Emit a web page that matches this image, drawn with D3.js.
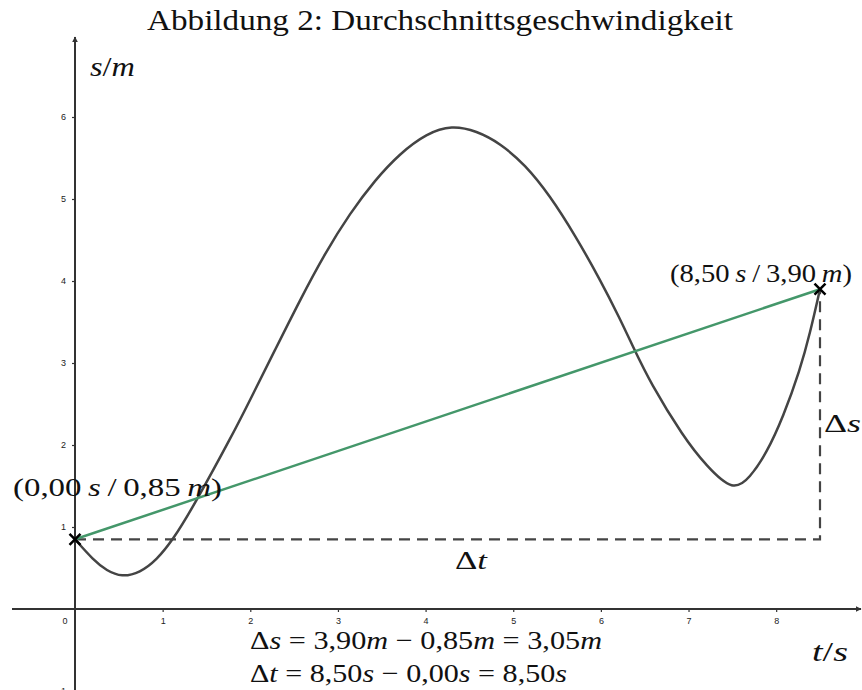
<!DOCTYPE html>
<html>
<head>
<meta charset="utf-8">
<script src="https://cdn.jsdelivr.net/npm/d3@7"></script>
<style>
  html, body { margin: 0; padding: 0; background: #fff; }
  svg { display: block; }
</style>
</head>
<body>
<svg id="chart" width="862" height="690"></svg>
<script>
// Weg-Zeit-Kurve s(t)
const curveT = [0, 0.209, 0.362, 0.533, 0.742, 0.932, 1.121, 1.350, 1.806, 1.997, 2.282, 2.567, 2.852, 3.137, 3.423, 3.708, 4.012, 4.298, 4.583, 4.849, 5.134, 5.419, 5.704, 5.990, 6.218, 6.370, 6.564, 6.940, 7.207, 7.511, 7.700, 7.890, 8.081, 8.272, 8.386, 8.50];
const curveS = [0.85, 0.598, 0.467, 0.390, 0.443, 0.598, 0.850, 1.248, 2.143, 2.549, 3.159, 3.768, 4.338, 4.826, 5.232, 5.557, 5.800, 5.900, 5.830, 5.680, 5.420, 5.040, 4.560, 4.020, 3.540, 3.190, 2.760, 2.100, 1.740, 1.430, 1.600, 1.900, 2.345, 2.915, 3.362, 3.90];

// Start- und Endpunkt der Sekante
const pointT = [0.00, 8.50];
const pointS = [0.85, 3.90];

// Achsenbeschriftung
const xTicks = [1, 2, 3, 4, 5, 6, 7, 8];
const yTicks = [-1, 1, 2, 3, 4, 5, 6];

const svg = d3.select("#chart");
const x = d3.scaleLinear().domain([0, 8.5]).range([75, 820]);
const y = d3.scaleLinear().domain([0, 6]).range([609, 117]);

const axisColor = "#333";
const curveColor = "#444";
const secantColor = "#44976a";
const serif = "Liberation Serif, Times New Roman, Times, serif";
const sans = "Liberation Sans, Arial, Helvetica, sans-serif";

// Pfeilspitzen
const defs = svg.append("defs");
defs.append("marker").attr("id", "arrow").attr("viewBox", "0 0 10 10")
  .attr("refX", 9).attr("refY", 5).attr("markerWidth", 6).attr("markerHeight", 6)
  .attr("markerUnits", "userSpaceOnUse").attr("orient", "auto")
  .append("path").attr("d", "M0,0 L10,5 L0,10 z").attr("fill", axisColor);

// Achsen
const xAxis = d3.axisBottom(x).tickValues(xTicks).tickSize(3).tickPadding(6).tickFormat(d3.format("d"));
const yAxis = d3.axisLeft(y).tickValues(yTicks).tickSize(3).tickPadding(6).tickFormat(d3.format("d"));

const gx = svg.append("g").attr("transform", `translate(0,${y(0)})`).call(xAxis);
const gy = svg.append("g").attr("transform", `translate(${x(0)},0)`).call(yAxis);
[gx, gy].forEach(g => {
  g.select(".domain").remove();
  g.selectAll(".tick line").attr("stroke", axisColor).attr("stroke-width", 1.2);
  g.selectAll(".tick text").attr("fill", "#222").attr("font-family", sans).attr("font-size", 9);
});
gx.selectAll(".tick text").attr("dy", "0.71em");

svg.append("line").attr("x1", 12).attr("x2", 861).attr("y1", y(0)).attr("y2", y(0))
  .attr("stroke", axisColor).attr("stroke-width", 2).attr("marker-end", "url(#arrow)");
svg.append("line").attr("x1", x(0)).attr("x2", x(0)).attr("y1", 690).attr("y2", 37)
  .attr("stroke", axisColor).attr("stroke-width", 2).attr("marker-end", "url(#arrow)");

svg.append("text").attr("x", x(0) - 10).attr("y", y(0) + 9).attr("dy", "0.71em")
  .attr("text-anchor", "middle").attr("fill", "#222")
  .attr("font-family", sans).attr("font-size", 9).text("0");

// Hilfslinien Δt und Δs
svg.append("path")
  .attr("d", `M${x(pointT[0])},${y(pointS[0])} H${x(pointT[1])} V${y(pointS[1])}`)
  .attr("fill", "none").attr("stroke", curveColor).attr("stroke-width", 2.2)
  .attr("stroke-dasharray", "11,7");

const pts = curveT.map((t, i) => [t, curveS[i]]);
svg.append("path").datum(pts)
  .attr("d", d3.line().x(d => x(d[0])).y(d => y(d[1])).curve(d3.curveBasis))
  .attr("fill", "none").attr("stroke", curveColor).attr("stroke-width", 2.5);

// Sekante
svg.append("line")
  .attr("x1", x(pointT[0])).attr("y1", y(pointS[0]))
  .attr("x2", x(pointT[1])).attr("y2", y(pointS[1]))
  .attr("stroke", secantColor).attr("stroke-width", 2.5);

// Punkte als Kreuze
pointT.forEach((t, i) => {
  const cx = x(t), cy = y(pointS[i]), r = 5.5;
  svg.append("path")
    .attr("d", `M${cx - r},${cy - r} L${cx + r},${cy + r} M${cx - r},${cy + r} L${cx + r},${cy - r}`)
    .attr("stroke", "#000").attr("stroke-width", 2.5);
});

// Formeltext aus Teilen (upright / italic)
function mathText(px, py, parts, size, width, anchor) {
  const t = svg.append("text").attr("x", px).attr("y", py)
    .attr("font-family", serif).attr("font-size", size).attr("fill", "#111")
    .attr("text-anchor", anchor || "start");
  parts.forEach(p => {
    t.append("tspan").attr("font-style", p[1] ? "italic" : "normal").text(p[0]);
  });
  if (width) t.attr("textLength", width).attr("lengthAdjust", "spacingAndGlyphs");
  return t;
}

// Titel
mathText(147, 30, [["Abbildung 2: Durchschnittsgeschwindigkeit", false]], 29, 586);

// Achsentitel
mathText(90, 76, [["s", true], ["/", false], ["m", true]], 27, 45);
mathText(812, 661, [["t", true], ["/", false], ["s", true]], 27, 36);

// Punktbeschriftungen
mathText(13, 496, [["(0,00\u2009", false], ["s", true], ["\u2009/\u20090,85\u2009", false], ["m", true], [")", false]], 26, 209);
mathText(670, 282, [["(8,50\u2009", false], ["s", true], ["\u2009/\u20093,90\u2009", false], ["m", true], [")", false]], 26, 182);

// Δt und Δs an den Hilfslinien
mathText(455, 569, [["\u0394", false], ["t", true]], 26, 32);
mathText(824, 432, [["\u0394", false], ["s", true]], 26, 37);

// Rechnung
mathText(250, 649, [["\u0394", false], ["s", true], [" = 3,90", false], ["m", true], [" \u2212 0,85", false], ["m", true], [" = 3,05", false], ["m", true]], 26, 352);
mathText(250, 682, [["\u0394", false], ["t", true], [" = 8,50", false], ["s", true], [" \u2212 0,00", false], ["s", true], [" = 8,50", false], ["s", true]], 26, 317);
</script>
</body>
</html>
